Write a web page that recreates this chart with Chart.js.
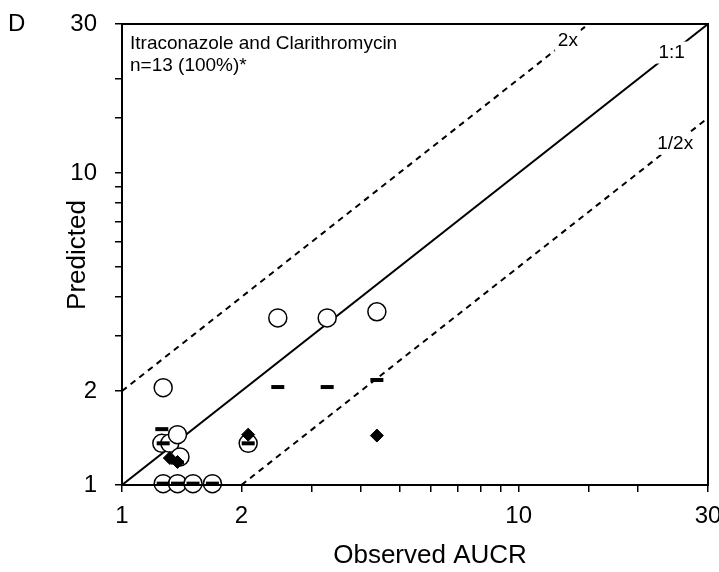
<!DOCTYPE html>
<html>
<head>
<meta charset="utf-8">
<script src="https://cdn.jsdelivr.net/npm/chart.js@4"></script>
<style>
  body { margin: 0; background: #fff; }
</style>
</head>
<body>
<canvas id="chart" width="719" height="572"></canvas>
<script>
// observed vs predicted AUCR, three prediction sets
const circleX = [1.27, 1.26, 1.32, 1.38, 1.40, 2.08, 2.47, 3.29, 4.39, 1.27, 1.38, 1.51, 1.69];
const circleY = [2.05, 1.36, 1.36, 1.45, 1.23, 1.36, 3.43, 3.43, 3.59, 1.01, 1.01, 1.01, 1.01];

const dashX = [1.26, 1.27, 1.38, 2.08, 2.47, 3.29, 4.39, 1.27, 1.38, 1.51, 1.69];
const dashY = [1.51, 1.36, 1.18, 1.36, 2.06, 2.06, 2.17, 1.01, 1.01, 1.01, 1.01];

const diamondX = [1.32, 1.38, 2.08, 4.39];
const diamondY = [1.22, 1.185, 1.45, 1.44];

const lineOne = [[1, 1], [30, 30]];
const lineTwo = [[1, 2], [15, 30]];
const lineHalf = [[2, 1], [30, 15]];

const tickLabels = [1, 2, 10, 30];

const FONT = "'Liberation Sans', Arial, sans-serif";

function pts(xs, ys) {
  return xs.map((x, i) => ({ x: x, y: ys[i] }));
}
function seg(p) {
  return p.map(a => ({ x: a[0], y: a[1] }));
}

const overlay = {
  id: "overlay",
  afterDatasetsDraw(chart) {
    const ctx = chart.ctx;
    const a = chart.chartArea;
    const xs = chart.scales.x, ys = chart.scales.y;

    // line labels sitting on the lines
    ctx.save();
    ctx.font = "19px " + FONT;
    ctx.textAlign = "center";
    ctx.textBaseline = "middle";
    [["2x", 13.3, 26.6], ["1:1", 24.3, 24.3], ["1/2x", 24.8, 12.4]].forEach(l => {
      const px = xs.getPixelForValue(l[1]);
      const py = ys.getPixelForValue(l[2]);
      const w = ctx.measureText(l[0]).width + 6;
      ctx.fillStyle = "#fff";
      ctx.fillRect(px - w / 2, py - 11, w, 22);
      ctx.fillStyle = "#000";
      ctx.fillText(l[0], px, py);
    });
    ctx.restore();

    // frame
    ctx.save();
    ctx.strokeStyle = "#000";
    ctx.lineWidth = 2;
    ctx.strokeRect(a.left, a.top, a.right - a.left, a.bottom - a.top);
    ctx.restore();

    ctx.save();
    ctx.fillStyle = "#000";
    ctx.font = "19px " + FONT;
    ctx.textAlign = "left";
    ctx.textBaseline = "alphabetic";
    ctx.fillText("Itraconazole and Clarithromycin", 130, 49);
    ctx.fillText("n=13 (100%)*", 130, 71);

    ctx.font = "24px " + FONT;
    ctx.fillText("D", 8, 31);

    ctx.font = "26px " + FONT;
    ctx.textAlign = "center";
    ctx.fillText("Observed AUCR", 430, 563);
    ctx.translate(85, 255);
    ctx.rotate(-Math.PI / 2);
    ctx.fillText("Predicted", 0, 0);
    ctx.restore();
  }
};

const axisBase = {
  type: "logarithmic",
  min: 1,
  max: 30,
  border: { color: "#000", width: 2 },
  grid: {
    drawOnChartArea: false,
    color: "#000",
    lineWidth: 1.5,
    tickLength: 7
  },
  ticks: {
    autoSkip: false,
    color: "#000",
    font: { family: FONT, size: 24 },
    callback: v => tickLabels.includes(v) ? String(v) : ""
  }
};

new Chart(document.getElementById("chart"), {
  type: "scatter",
  data: {
    datasets: [
      {
        label: "diamonds",
        data: pts(diamondX, diamondY),
        pointStyle: "rectRot",
        pointRadius: 6.5,
        backgroundColor: "#000",
        borderColor: "#000",
        borderWidth: 1,
        clip: false,
        order: 1
      },
      {
        label: "dashes",
        data: pts(dashX, dashY),
        pointStyle: "line",
        pointRadius: 6.5,
        borderColor: "#000",
        borderWidth: 4,
        clip: false,
        order: 2
      },
      {
        label: "circles",
        data: pts(circleX, circleY),
        pointStyle: "circle",
        pointRadius: 9,
        backgroundColor: "#fff",
        borderColor: "#000",
        borderWidth: 1.5,
        clip: false,
        order: 3
      },
      {
        type: "line",
        data: seg(lineOne),
        borderColor: "#000",
        borderWidth: 2,
        pointRadius: 0,
        order: 4
      },
      {
        type: "line",
        data: seg(lineTwo),
        borderColor: "#000",
        borderWidth: 2,
        borderDash: [6, 5],
        pointRadius: 0,
        order: 4
      },
      {
        type: "line",
        data: seg(lineHalf),
        borderColor: "#000",
        borderWidth: 2,
        borderDash: [6, 5],
        pointRadius: 0,
        order: 4
      }
    ]
  },
  options: {
    responsive: false,
    animation: false,
    layout: { padding: { top: 24, right: 11, left: 0, bottom: 0 } },
    plugins: {
      legend: { display: false },
      tooltip: { enabled: false }
    },
    scales: {
      x: Object.assign({}, axisBase, {
        position: "bottom",
        ticks: Object.assign({}, axisBase.ticks, { padding: 10, maxRotation: 0 }),
        afterFit: s => { s.height = 87; s.paddingLeft = 0; s.paddingRight = 0; }
      }),
      y: Object.assign({}, axisBase, {
        position: "left",
        ticks: Object.assign({}, axisBase.ticks, { padding: 18 }),
        afterFit: s => { s.width = 122; s.paddingTop = 0; s.paddingBottom = 0; }
      })
    }
  },
  plugins: [overlay]
});
</script>
</body>
</html>
